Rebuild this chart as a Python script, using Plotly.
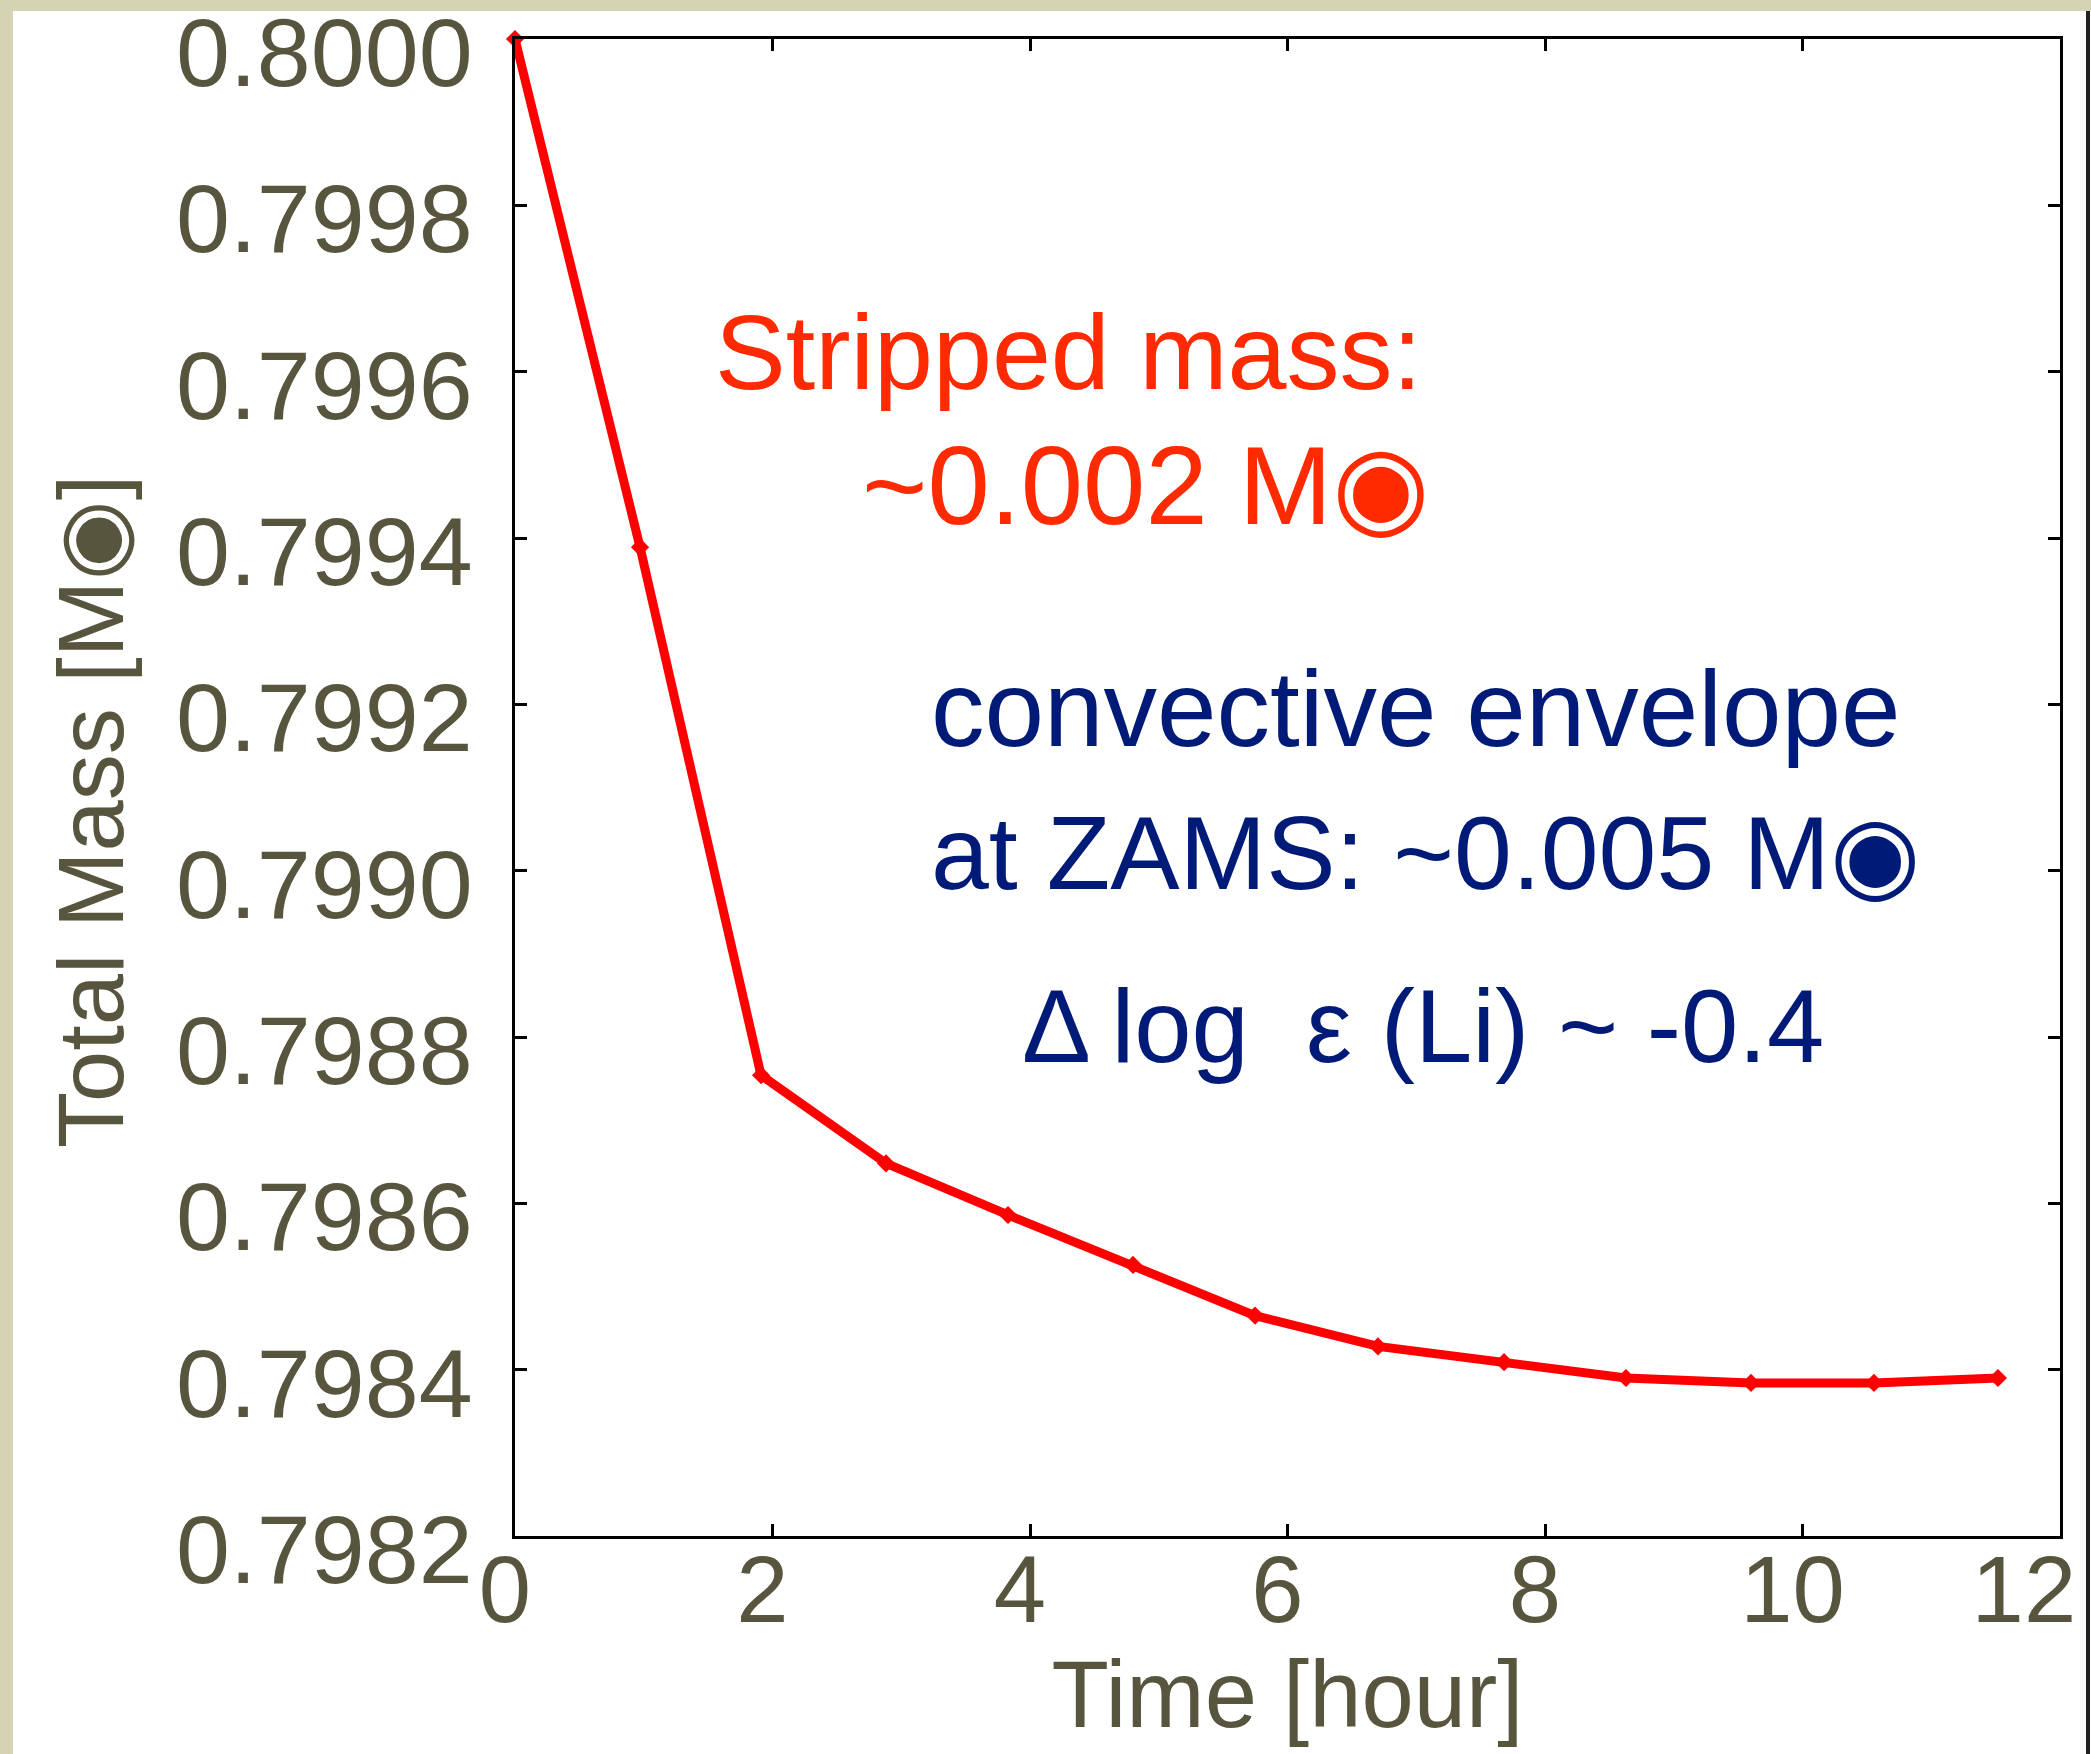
import plotly.graph_objects as go

# Data
time_hour = [0.0, 0.971, 1.911, 2.882, 3.829, 4.800, 5.748, 6.703, 7.682, 8.629, 9.600, 10.555, 11.518]
total_mass = [0.80000, 0.799389, 0.798754, 0.798648, 0.798586, 0.798526, 0.798465,
              0.798428, 0.798409, 0.798390, 0.798384, 0.798384, 0.798390]
x_ticks = [0, 2, 4, 6, 8, 10, 12]
x_ticklabels = ["0", "2", "4", "6", "8", "10", "12\u00a0\u00a0"]
y_ticks = [0.7982, 0.7984, 0.7986, 0.7988, 0.7990, 0.7992, 0.7994, 0.7996, 0.7998, 0.8000]
y_ticklabels = ["0.7982", "0.7984", "0.7986", "0.7988", "0.7990", "0.7992", "0.7994", "0.7996", "0.7998", "0.8000"]
x_title = "Time [hour]"
y_title = "Total Mass [M◉]"

W, H = 2091, 1754
L, R, T, B = 515, 2060, 39, 1536
FONT = "Liberation Sans, Arial, Helvetica, DejaVu Sans, sans-serif"
OLIVE = "#58553f"
RED_TXT = "#ff2a00"
NAVY = "#001a78"


def px(xp):
    return (xp - L) / (R - L)


def py(yp):
    return (B - yp) / (B - T)


fig = go.Figure()
fig.add_trace(go.Scatter(
    x=time_hour, y=total_mass, mode="lines+markers",
    line=dict(color="#ff0000", width=9),
    marker=dict(symbol="diamond", size=14, color="#ff0000"),
    cliponaxis=False, showlegend=False,
))

fig.update_layout(
    width=W, height=H,
    margin=dict(l=L, r=W - R, t=T, b=H - B, pad=0),
    paper_bgcolor="white", plot_bgcolor="white",
    font=dict(family=FONT, color=OLIVE),
    xaxis=dict(
        range=[0, 12], tickvals=x_ticks, ticktext=x_ticklabels,
        ticks="inside", ticklen=12, tickwidth=3, tickcolor="black",
        showline=True, linewidth=3, linecolor="black", mirror="ticks",
        showgrid=False, zeroline=False, automargin=False,
        tickfont=dict(size=94, color=OLIVE, family=FONT),
        ticklabelstandoff=-30, ticklabelshift=-10, ticklabeloverflow="allow",
        title=dict(text=x_title, font=dict(size=94, color=OLIVE, family=FONT), standoff=21),
    ),
    yaxis=dict(
        range=[0.7982, 0.8000], tickvals=y_ticks, ticktext=y_ticklabels,
        ticks="inside", ticklen=12, tickwidth=3, tickcolor="black",
        showline=True, linewidth=3, linecolor="black", mirror="ticks",
        showgrid=False, zeroline=False, automargin=False,
        tickfont=dict(size=97, color=OLIVE, family=FONT),
        ticklabelstandoff=20, ticklabelshift=13, ticklabeloverflow="allow",
    ),
)

# Y-axis title placed as a rotated annotation so it can sit where the reference has it
fig.add_annotation(text=y_title, textangle=-90, x=px(91), y=py(812), xref="paper", yref="paper",
                   xanchor="center", yanchor="middle", showarrow=False,
                   font=dict(size=92, color=OLIVE, family=FONT))

# Slide-like background: beige strips top and left, dark line at right edge
fig.add_shape(type="rect", xref="paper", yref="paper", x0=px(0), x1=px(W), y0=py(0), y1=py(11),
              fillcolor="#d6d3b5", line=dict(width=0), layer="below")
fig.add_shape(type="rect", xref="paper", yref="paper", x0=px(0), x1=px(13), y0=py(H), y1=py(0),
              fillcolor="#d6d3b5", line=dict(width=0), layer="below")
fig.add_shape(type="line", xref="paper", yref="paper", x0=px(2088), x1=px(2088), y0=py(H), y1=py(11),
              line=dict(color="#222222", width=4))

ann = [
    dict(text="Stripped mass:", x=px(713), y=py(352), xanchor="left", size=106, color=RED_TXT),
    dict(text="~0.002 M◉", x=px(860), y=py(486), xanchor="left", size=112, color=RED_TXT),
    dict(text="convective envelope", x=px(929), y=py(709), xanchor="left", size=107, color=NAVY),
    dict(text="at ZAMS: ~0.005 M◉", x=px(929), y=py(853), xanchor="left", size=104, color=NAVY),
    dict(text="Δ\u2009log\u00a0\u00a0ε (Li) ~ -0.4", x=px(1423), y=py(1026), xanchor="center", size=103, color=NAVY),
]
for a in ann:
    fig.add_annotation(text=a["text"], x=a["x"], y=a["y"], xref="paper", yref="paper",
                       xanchor=a["xanchor"], yanchor="middle", showarrow=False,
                       font=dict(size=a["size"], color=a["color"], family=FONT))

fig.write_html("out.html", config={"displayModeBar": False},
               post_script="document.body.style.margin='0px';")
